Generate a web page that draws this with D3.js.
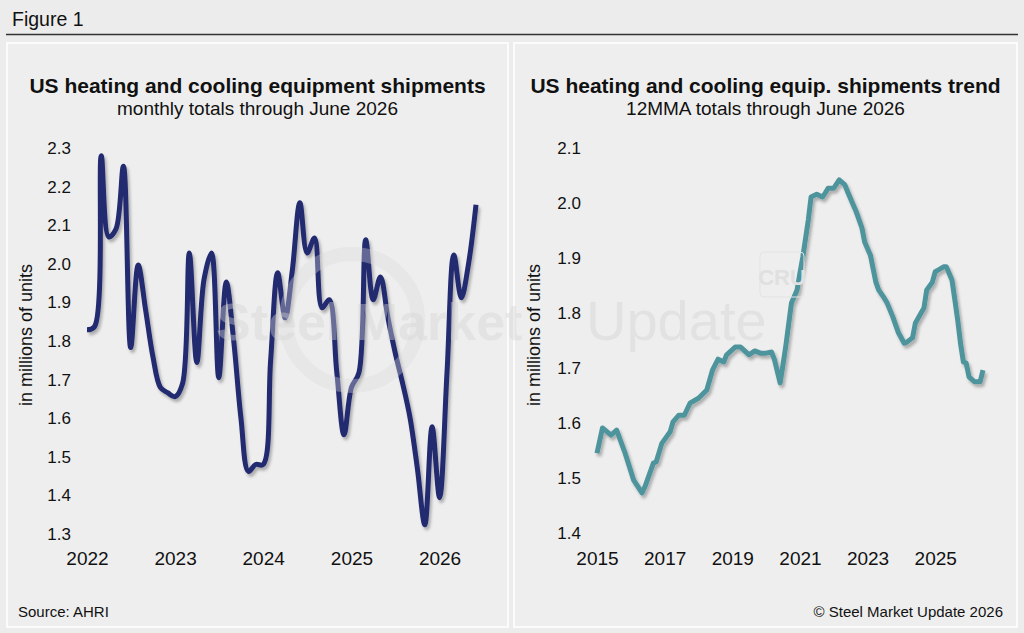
<!DOCTYPE html>
<html>
<head>
    <meta charset="utf-8">
    <title>Figure 1</title>
    <script src="https://d3js.org/d3.v7.min.js"></script>
    <style>
        body { margin: 0; background: #ececec; }
        text { font-family: "Liberation Sans", Arial, Helvetica, sans-serif; }
    </style>
</head>
<body>
<svg id="fig" width="1024" height="633"></svg>
<script>
    // monthly shipments, Jan 2022 .. Jun 2026 (millions of units)
    let monthlyStart = "2022-01";
    let monthlyValues = [
        1.829, 1.837, 2.280, 2.070, 2.090, 2.253, 1.783, 1.997, 1.880, 1.760, 1.680, 1.666,
        1.656, 1.690, 2.028, 1.744, 1.960, 2.028, 1.705, 1.953, 1.800, 1.600, 1.462, 1.480,
        1.480, 1.750, 1.977, 1.860, 1.984, 2.158, 2.028, 2.067, 1.886, 1.907, 1.720, 1.557,
        1.680, 1.718, 2.062, 1.907, 1.966, 1.860, 1.770, 1.690, 1.600, 1.470, 1.324, 1.578,
        1.394, 1.720, 2.023, 1.912, 2.000, 2.153
    ];

    // 12MMA trend
    let trendMonths = [
        "2015-01","2015-03","2015-06","2015-08","2015-11","2016-02","2016-05","2016-06","2016-09","2016-10",
        "2016-12","2017-03","2017-04","2017-06","2017-08","2017-10","2018-01","2018-04","2018-06","2018-08",
        "2018-10","2018-11","2019-02","2019-04","2019-07","2019-09","2019-11","2020-01","2020-03","2020-04",
        "2020-06","2020-07","2020-08","2020-10","2020-12","2021-01","2021-02","2021-04","2021-05","2021-07",
        "2021-09","2021-10","2021-11","2022-01","2022-03","2022-05","2022-06","2022-08","2022-09","2022-11",
        "2022-12","2023-02","2023-04","2023-05","2023-07","2023-08","2023-10","2023-12","2024-02","2024-03",
        "2024-05","2024-06","2024-08","2024-09","2024-10","2024-12","2025-01","2025-02","2025-04","2025-05",
        "2025-07","2025-08","2025-09","2025-10","2025-11","2025-12","2026-01","2026-03","2026-05","2026-06"
    ];
    let trendValues = [
        1.545, 1.591, 1.578, 1.587, 1.545, 1.496, 1.473, 1.484, 1.527, 1.529,
        1.563, 1.584, 1.602, 1.614, 1.614, 1.636, 1.645, 1.660, 1.696, 1.716,
        1.711, 1.724, 1.738, 1.738, 1.724, 1.731, 1.727, 1.727, 1.729, 1.715,
        1.673, 1.705, 1.740, 1.818, 1.842, 1.873, 1.902, 1.969, 2.011, 2.016,
        2.011, 2.018, 2.027, 2.027, 2.042, 2.033, 2.020, 1.996, 1.984, 1.955,
        1.929, 1.905, 1.856, 1.842, 1.827, 1.818, 1.793, 1.764, 1.745, 1.747,
        1.755, 1.782, 1.800, 1.809, 1.842, 1.856, 1.875, 1.878, 1.884, 1.884,
        1.860, 1.824, 1.787, 1.745, 1.711, 1.709, 1.684, 1.675, 1.675, 1.696
    ];

    let leftYTicks = [1.3, 1.4, 1.5, 1.6, 1.7, 1.8, 1.9, 2.0, 2.1, 2.2, 2.3];
    let leftXTicks = [2022, 2023, 2024, 2025, 2026];
    let rightYTicks = [1.4, 1.5, 1.6, 1.7, 1.8, 1.9, 2.0, 2.1];
    let rightXTicks = [2015, 2017, 2019, 2021, 2023, 2025];

    let parseMonth = d3.timeParse("%Y-%m");
    let startDate = parseMonth(monthlyStart);
    let monthly = monthlyValues.map((v, i) => ({ date: d3.timeMonth.offset(startDate, i), value: v }));
    let trend = trendMonths.map((m, i) => ({ date: parseMonth(m), value: trendValues[i] }));

    let svg = d3.select("#fig");

    // shadow under the lines
    let defs = svg.append("defs");
    defs.append("filter")
        .attr("id", "shadow")
        .attr("x", "-10%").attr("y", "-10%").attr("width", "120%").attr("height", "120%")
        .append("feDropShadow")
        .attr("dx", 2).attr("dy", 3).attr("stdDeviation", 1.6)
        .attr("flood-color", "#000").attr("flood-opacity", 0.28);

    svg.append("rect").attr("width", 1024).attr("height", 633).attr("fill", "#ececec");

    // header
    svg.append("text").attr("x", 12).attr("y", 26)
        .style("font-size", "19.5px").style("fill", "#111").text("Figure 1");
    svg.append("line")
        .attr("x1", 6).attr("x2", 1018).attr("y1", 34.5).attr("y2", 34.5)
        .attr("stroke", "#333").attr("stroke-width", 1.5);

    // panels
    let panels = [[7, 501], [514, 503]];
    svg.selectAll("rect.panel")
        .data(panels)
        .join("rect")
        .attr("class", "panel")
        .attr("x", d => d[0]).attr("y", 43)
        .attr("width", d => d[1]).attr("height", 584)
        .attr("fill", "#eeeeee")
        .attr("stroke", "#fbfbfb").attr("stroke-width", 2);

    // faint watermark (behind the text labels, over the panels)
    let wm = svg.append("g").attr("class", "watermark").style("pointer-events", "none");

    function drawChart(opt) {
        let g = svg.append("g");

        g.append("text")
            .attr("x", opt.cx).attr("y", 93)
            .attr("text-anchor", "middle")
            .style("font-size", "21px").style("font-weight", "bold").style("fill", "#111")
            .text(opt.title);
        g.append("text")
            .attr("x", opt.cx).attr("y", 115)
            .attr("text-anchor", "middle")
            .style("font-size", "19px").style("fill", "#111")
            .text(opt.subtitle);

        let x = d3.scaleTime().domain(opt.xDomain).range(opt.xRange);
        let y = d3.scaleLinear().domain(opt.yDomain).range([opt.yBottom, 148]);

        let yAxis = g.append("g")
            .attr("transform", `translate(${opt.yAxisX},0)`)
            .call(d3.axisLeft(y).tickValues(opt.yTicks).tickFormat(d3.format(".1f")).tickSize(0).tickPadding(0));
        yAxis.select(".domain").remove();
        yAxis.selectAll("text")
            .style("font-size", "17px")
            .style("font-family", "'Liberation Sans', Arial, sans-serif")
            .style("fill", "#111");

        let xAxis = g.append("g")
            .attr("transform", "translate(0,551.5)")
            .call(d3.axisBottom(x)
                .tickValues(opt.xTicks.map(yr => new Date(yr, 0, 1)))
                .tickFormat(d3.timeFormat("%Y"))
                .tickSize(0).tickPadding(0));
        xAxis.select(".domain").remove();
        xAxis.selectAll("text")
            .style("font-size", "19px")
            .style("font-family", "'Liberation Sans', Arial, sans-serif")
            .style("fill", "#111");

        g.append("text")
            .attr("transform", `translate(${opt.labelX},335) rotate(-90)`)
            .attr("text-anchor", "middle")
            .style("font-size", "18px").style("fill", "#111")
            .text("in millions of units");

        let line = d3.line()
            .x(d => x(d.date))
            .y(d => y(d.value))
            .curve(opt.curve);

        g.append("path")
            .datum(opt.data)
            .attr("d", line)
            .attr("fill", "none")
            .attr("stroke", opt.color)
            .attr("stroke-width", opt.width)
            .attr("stroke-linejoin", "round")
            .attr("filter", "url(#shadow)");
    }

    drawChart({
        cx: 257.5,
        title: "US heating and cooling equipment shipments",
        subtitle: "monthly totals through June 2026",
        data: monthly,
        xDomain: [new Date(2022, 0, 1), new Date(2026, 5, 1)],
        xRange: [87, 476],
        yDomain: [1.3, 2.3],
        yBottom: 534,
        yTicks: leftYTicks,
        xTicks: leftXTicks,
        yAxisX: 71,
        labelX: 32,
        color: "#23296f",
        width: 5,
        curve: d3.curveCatmullRom.alpha(0.5)
    });

    drawChart({
        cx: 765.5,
        title: "US heating and cooling equip. shipments trend",
        subtitle: "12MMA totals through June 2026",
        data: trend,
        xDomain: [new Date(2015, 0, 1), new Date(2026, 5, 1)],
        xRange: [597, 983],
        yDomain: [1.4, 2.1],
        yBottom: 533,
        yTicks: rightYTicks,
        xTicks: rightXTicks,
        yAxisX: 581,
        labelX: 540,
        color: "#4e949d",
        width: 5,
        curve: d3.curveLinear
    });

    // footer
    svg.append("text").attr("x", 18).attr("y", 617)
        .style("font-size", "15px").style("fill", "#111").text("Source: AHRI");
    svg.append("text").attr("x", 1003).attr("y", 617).attr("text-anchor", "end")
        .style("font-size", "15px").style("fill", "#111").text("\u00a9 Steel Market Update 2026");

    // watermark drawn on top, very faint
    wm.raise();
    wm.append("circle")
        .attr("cx", 352).attr("cy", 320).attr("r", 66)
        .attr("fill", "none").attr("stroke", "#d9d9d9").attr("stroke-width", 14).attr("opacity", 0.35);
    wm.append("text")
        .attr("x", 216).attr("y", 340)
        .style("font-size", "52px").style("font-weight", "bold")
        .style("fill", "#d4d4d4").style("opacity", 0.4)
        .text("Steel Market");
    wm.append("text")
        .attr("x", 586).attr("y", 340)
        .style("font-size", "56px").style("font-weight", "normal")
        .style("fill", "#d4d4d4").style("opacity", 0.45)
        .text("Update");
    wm.append("rect")
        .attr("x", 760).attr("y", 252).attr("width", 44).attr("height", 45).attr("rx", 4)
        .attr("fill", "none").attr("stroke", "#e3e3e3").attr("stroke-width", 1);
    wm.append("text")
        .attr("x", 782).attr("y", 285).attr("text-anchor", "middle")
        .style("font-size", "22px").style("font-weight", "bold")
        .style("fill", "#e0e0e0").text("CRU");
</script>
</body>
</html>
